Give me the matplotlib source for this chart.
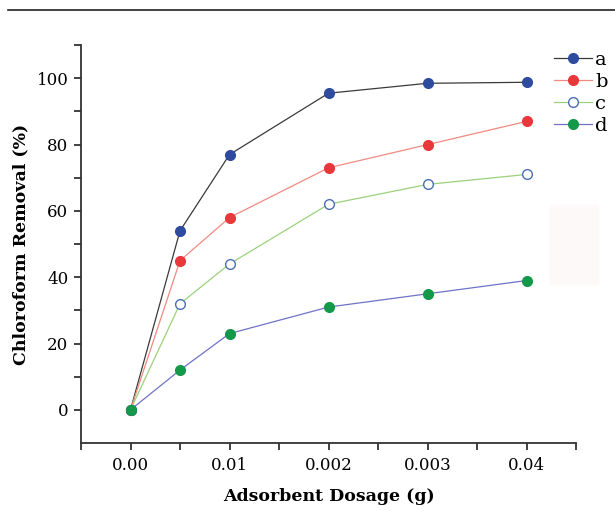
import matplotlib.pyplot as plt
from matplotlib.lines import Line2D
from matplotlib.patches import Rectangle

dose_labels = ["0.00", "0.01", "0.002", "0.003", "0.04"]
x_pos = [0, 0.5, 1, 2, 3, 4]

a = [0, 54, 77, 95.5, 98.5, 98.8]
b = [0, 45, 58, 73, 80, 87]
c = [0, 32, 44, 62, 68, 71]
d = [0, 12, 23, 31, 35, 39]

plt.rcParams['font.family'] = ['DejaVu Serif']

fig = plt.figure(figsize=(6.15, 5.12), dpi=100)
ax = fig.add_axes([0.1317, 0.1348, 0.805, 0.777])
ax.patch.set_visible(False)

# series: (values, line colour, marker face, marker edge, label)
series = [
    (a, "#3a3a3a", "#2f4b9e", "#2f4b9e", "a"),
    (b, "#f08a80", "#e8383b", "#e8383b", "b"),
    (c, "#9bd17c", "white", "#4a6fb5", "c"),
    (d, "#6f72c8", "#14984a", "#14984a", "d"),
]
handles = []
for vals, lc, mfc, mec, lab in series:
    ax.plot(x_pos, vals, color=lc, lw=0.9, zorder=2)
    ax.plot(x_pos, vals, ls="none", marker="o", ms=7, mfc=mfc, mec=mec, mew=1, zorder=3)
    handles.append(Line2D([0], [0], color=lc, lw=0.9, marker="o", ms=7,
                          mfc=mfc, mec=mec, mew=1, label=lab))

ax.set_xlim(-0.5, 4.5)
ax.set_ylim(-10, 110)
ax.set_xticks(range(5))
ax.set_xticklabels(dose_labels, fontsize=12)
ax.set_xticks([-0.5, 0.5, 1.5, 2.5, 3.5, 4.5], minor=True)
ax.set_yticks([0, 20, 40, 60, 80, 100])
ax.set_yticks([10, 30, 50, 70, 90, 110], minor=True)
ax.tick_params(axis="y", labelsize=12, pad=4)
ax.tick_params(which="both", direction="out", length=5, width=1.3, color="#333333")
ax.tick_params(axis="x", pad=5)

for s in ["top", "right"]:
    ax.spines[s].set_visible(False)
for s in ["left", "bottom"]:
    ax.spines[s].set_linewidth(1.3)
    ax.spines[s].set_color("#333333")

ax.set_xlabel("Adsorbent Dosage (g)", fontsize=12.5, fontweight="bold", labelpad=10)
ax.set_ylabel("Chloroform Removal (%)", fontsize=12.5, fontweight="bold", labelpad=5)

fig.legend(handles=handles, loc="upper left", bbox_to_anchor=(0.9, 0.9),
           frameon=False, fontsize=14, handlelength=2.0, handletextpad=0.15,
           labelspacing=0.2, borderaxespad=0, borderpad=0)

fig.add_artist(Line2D([0.013, 1.0], [0.981, 0.981], color="#222222", lw=1.2))
fig.add_artist(Rectangle((0.895, 0.445), 0.078, 0.155, transform=fig.transFigure,
                         color="#fdf9f9", zorder=-1))

fig.savefig("out.png", dpi=100)
